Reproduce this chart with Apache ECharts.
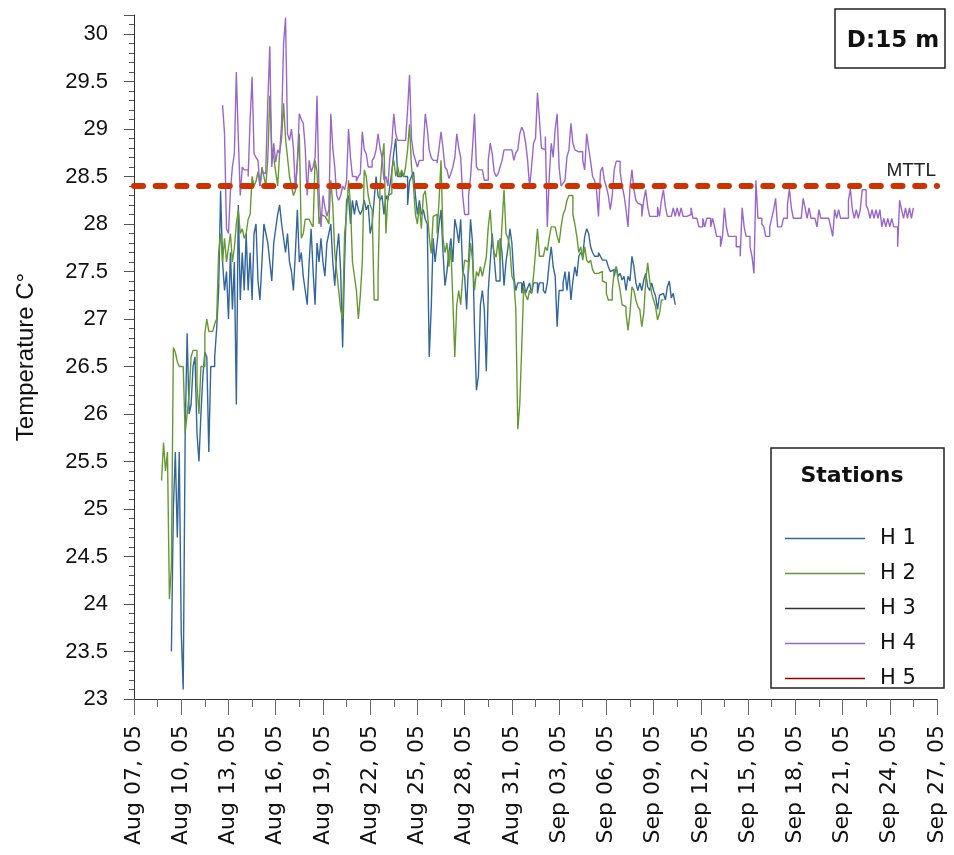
<!DOCTYPE html>
<html>
<head>
<meta charset="utf-8">
<script src="https://cdn.jsdelivr.net/npm/echarts@6/dist/echarts.min.js"></script>
<style>
html,body{margin:0;padding:0;background:#fff;}
#chart{width:954px;height:855px;}
</style>
</head>
<body>
<div id="chart"></div>
<script>
// ---- data: x = days after Aug 07 2005 00:00, 3-hour sampling ----
const xTickLabels = ['Aug 07, 05','Aug 10, 05','Aug 13, 05','Aug 16, 05','Aug 19, 05','Aug 22, 05','Aug 25, 05','Aug 28, 05','Aug 31, 05','Sep 03, 05','Sep 06, 05','Sep 09, 05','Sep 12, 05','Sep 15, 05','Sep 18, 05','Sep 21, 05','Sep 24, 05','Sep 27, 05'];
const stationNames = ['H 1','H 2','H 3','H 4','H 5'];
const mttl = 28.4;
const sampleStep = 0.125;

// H 1
const h1Start = 2.375;
const h1Values = [
23.5,25.0,25.6,24.7,25.6,23.7,23.1,25.8,26.85,26.0,26.1,26.5,26.6,25.8,25.5,26.0,26.4,26.65,26.6,25.6,
26.5,26.5,26.6,26.9,27.3,28.35,27.6,27.3,27.5,27.0,27.7,27.1,27.6,26.1,28.2,27.2,27.7,27.3,27.9,27.3,
27.7,27.2,27.9,28.0,27.4,27.2,27.6,28.0,27.9,27.8,27.6,27.4,27.8,27.95,28.1,28.2,28.0,27.85,27.7,27.9,
27.6,27.5,27.3,27.7,28.15,27.6,27.7,27.45,27.3,27.15,27.6,27.95,27.5,27.15,27.8,27.6,27.85,27.6,27.45,27.8,
27.9,28.0,27.6,27.35,27.7,27.9,27.5,26.7,27.6,28.25,28.3,28.0,28.25,28.1,28.25,28.15,28.1,28.15,28.25,28.15,
28.2,27.9,28.0,28.25,28.5,28.3,28.25,28.3,28.1,28.3,28.25,28.4,28.55,28.75,28.9,28.5,28.5,28.55,28.5,28.5,
28.2,28.45,28.5,28.55,28.3,28.1,28.25,28.1,28.15,28.05,28.0,26.6,27.1,27.85,27.6,27.8,28.0,28.15,27.7,27.35,
27.5,27.7,27.85,27.6,28.05,27.95,27.8,28.05,27.5,27.45,27.1,27.6,28.05,27.8,26.9,26.25,26.4,27.15,27.3,27.1,
26.45,27.3,27.6,27.9,27.65,27.4,27.4,27.85,27.7,27.35,27.6,27.75,27.95,27.8,27.45,27.3,27.38,27.38,27.27,27.4,
27.27,27.33,27.38,27.27,27.38,27.38,27.27,27.38,27.38,27.3,27.27,27.38,27.6,27.76,27.55,27.45,26.92,27.3,27.3,27.38,
27.5,27.3,27.5,27.2,27.4,27.55,27.45,27.66,27.7,27.66,27.87,27.95,27.9,27.76,27.7,27.66,27.66,27.7,27.66,27.62,
27.62,27.62,27.55,27.5,27.52,27.45,27.55,27.45,27.48,27.41,27.45,27.3,27.45,27.4,27.66,27.55,27.38,27.3,27.38,27.3,
27.41,27.48,27.34,27.3,27.38,27.3,27.24,27.1,27.25,27.27,27.27,27.2,27.34,27.4,27.22,27.27,27.15];

// H 2
const h2Start = 1.75;
const h2Values = [
25.3,25.7,25.4,25.6,24.05,24.4,26.7,26.65,26.55,26.5,26.5,26.5,25.8,26.0,26.2,26.6,26.67,26.67,26.3,26.0,
26.5,26.5,26.85,27.0,26.87,26.87,26.85,26.95,27.0,27.7,27.9,27.6,27.85,27.6,27.75,27.9,27.6,27.75,28.0,28.15,
27.9,27.95,27.85,27.9,28.05,28.1,28.5,28.4,28.45,28.55,28.4,28.6,28.5,28.4,28.7,29.35,28.8,28.7,28.55,28.4,
28.75,28.9,29.27,28.9,28.7,28.5,28.4,28.3,28.35,28.65,28.95,27.85,27.9,28.05,28.05,28.04,28.0,27.97,28.67,28.55,
28.0,28.1,28.08,28.1,28.05,28.0,28.46,28.2,27.7,27.5,27.3,27.1,27.0,27.9,28.1,28.46,28.2,27.6,27.45,27.3,
27.0,27.25,27.6,28.57,28.5,28.3,28.2,28.15,27.2,27.2,27.45,28.39,28.67,28.85,27.9,28.3,28.32,28.57,28.67,28.5,
28.6,28.5,28.57,28.5,28.6,28.78,29.05,28.6,28.4,28.1,28.0,28.2,27.95,28.3,28.35,28.15,27.87,27.69,28.08,28.1,
27.9,28.25,28.67,27.85,27.7,27.8,27.55,27.76,27.2,26.6,27.15,27.3,27.15,27.45,27.62,27.6,27.5,27.8,27.62,27.3,
27.5,27.45,27.55,27.45,27.55,27.65,27.97,28.15,27.8,27.7,27.65,27.83,27.6,28.0,28.36,27.9,27.85,27.75,27.45,27.4,
27.1,25.84,26.1,26.7,27.34,27.25,27.2,27.3,27.27,27.45,27.7,27.95,27.66,27.66,27.66,27.76,27.72,27.86,27.97,27.97,
27.97,27.87,27.8,27.97,28.1,28.15,28.25,28.3,28.3,28.1,28.0,27.87,27.7,27.76,27.62,27.76,27.62,27.59,27.62,27.52,
27.48,27.48,27.48,27.5,27.4,27.38,27.27,27.2,27.2,27.3,27.5,27.55,27.41,27.3,27.15,27.13,27.06,26.88,27.06,27.34,
27.3,27.2,27.13,27.1,26.92,27.06,27.4,27.59,27.41,27.27,27.2,27.13,26.99,27.06,27.2,27.2];

// H 3 : no record at this depth
const h3Values = [];

// H 4
const h4Start = 5.625;
const h4Values = [
29.25,28.95,27.95,27.9,28.35,28.6,28.74,29.6,28.9,28.3,28.6,28.57,28.57,28.5,29.1,29.55,28.74,28.7,28.67,28.4,
28.55,28.53,28.6,29.3,29.87,28.6,28.85,28.65,28.78,28.74,29.06,29.9,30.17,28.95,28.88,29.0,28.8,28.35,28.65,29.16,
29.1,29.06,28.8,28.3,28.67,28.55,28.6,28.7,29.35,28.35,27.97,28.3,28.18,28.08,28.15,29.16,28.8,28.6,28.3,28.25,
28.3,28.4,28.36,28.46,29.0,28.7,28.5,28.5,28.45,28.5,28.53,28.97,28.78,28.74,28.6,28.6,28.67,28.7,28.78,28.95,
28.8,28.7,28.46,28.5,28.4,28.7,28.85,29.16,28.95,28.88,28.88,28.88,28.88,28.88,29.2,29.57,28.9,28.74,28.67,28.6,
28.67,28.67,28.8,29.16,29.0,28.78,28.7,28.67,28.67,28.64,28.8,28.97,28.8,28.6,28.57,28.48,28.53,28.6,28.7,28.95,
28.8,28.7,28.3,28.1,28.1,28.3,28.5,28.8,29.16,28.6,28.57,28.57,28.57,28.46,28.46,28.67,28.85,28.74,28.55,28.5,
28.53,28.6,28.67,28.78,28.78,28.78,28.78,28.78,28.67,28.75,28.78,28.95,29.02,28.97,28.85,28.67,28.38,28.6,28.85,28.9,
29.38,29.1,28.8,28.78,28.92,27.97,28.5,28.85,28.7,29.0,29.16,28.6,28.4,28.43,28.46,28.71,28.78,29.06,28.85,28.78,
28.76,28.78,28.76,28.67,28.57,28.95,28.8,28.66,28.5,28.46,28.36,28.08,28.55,28.6,28.46,28.39,28.3,28.15,28.3,28.57,
28.66,28.66,28.55,28.4,28.3,28.15,27.97,28.39,28.57,28.36,28.25,28.22,28.2,28.08,28.25,28.36,28.18,28.08,28.08,28.08,
28.08,28.18,28.08,28.25,28.36,28.18,28.08,28.08,28.08,28.17,28.08,28.17,28.08,28.17,28.08,28.08,28.08,28.1,28.17,28.06,
28.06,28.06,27.97,27.97,28.06,27.97,28.06,28.06,27.97,28.06,27.97,27.87,27.87,27.76,27.87,28.17,27.97,27.87,27.87,27.87,
27.87,27.76,27.76,27.66,28.17,27.97,27.87,27.87,27.76,27.66,27.48,28.46,28.06,28.06,28.0,27.97,27.87,27.87,27.97,28.06,
28.15,28.27,27.97,27.97,27.97,28.06,28.06,28.2,28.37,28.17,28.06,28.06,28.06,28.06,28.06,28.27,28.17,28.06,28.17,28.06,
28.06,28.06,27.97,28.15,28.06,28.06,28.06,28.06,28.06,27.97,27.87,28.15,28.06,28.15,28.06,28.06,28.06,28.06,28.25,28.37,
28.15,28.06,28.15,28.06,28.15,28.36,28.36,28.2,28.15,28.06,28.15,28.06,28.15,28.06,28.15,27.97,28.06,27.97,28.06,27.97,
28.06,27.97,27.97,27.76,28.25,28.15,28.06,28.17,28.06,28.17,28.06,28.17];

// H 5 : no record at this depth
const h5Values = [];

function toPairs(start, values) {
  return values.map((v, i) => [start + i * sampleStep, v]);
}

const colors = ['#336699', '#669933', '#333333', '#9966cc', '#990000'];
const seriesData = [
  toPairs(h1Start, h1Values),
  toPairs(h2Start, h2Values),
  h3Values,
  toPairs(h4Start, h4Values),
  h5Values
];

const chart = echarts.init(document.getElementById('chart'), null, {renderer: 'canvas'});

const series = stationNames.map((name, k) => ({
  name: name,
  type: 'line',
  step: 'end',
  data: seriesData[k],
  showSymbol: false,
  symbol: 'none',
  color: colors[k],
  lineStyle: {width: 1.4, color: colors[k]},
  z: 2
}));

series.push({
  name: 'MTTL',
  type: 'line',
  data: [],
  silent: true,
  z: 5,
  markLine: {
    silent: true,
    symbol: ['none', 'none'],
    animation: false,
    lineStyle: {color: '#cc3300', width: 6, type: [9, 12.7], cap: 'round'},
    label: {show: false},
    data: [{yAxis: mttl}]
  }
});

const option = {
  animation: false,
  backgroundColor: '#fff',
  grid: {left: 134, right: 17, top: 15, bottom: 156},
  xAxis: {
    type: 'value',
    min: 0,
    max: 51,
    interval: 3,
    axisLine: {show: true, lineStyle: {color: '#333', width: 1}},
    axisTick: {show: true, length: 16, lineStyle: {color: '#666'}},
    minorTick: {show: true, splitNumber: 2, length: 8, lineStyle: {color: '#666'}},
    splitLine: {show: false},
    axisLabel: {
      rotate: 90,
      margin: 26,
      fontFamily: 'DejaVu Sans',
      fontSize: 22,
      color: '#111',
      formatter: v => xTickLabels[Math.round(v / 3)] || ''
    }
  },
  yAxis: {
    type: 'value',
    min: 23,
    max: 30.2,
    interval: 0.5,
    name: 'Temperature C°',
    nameLocation: 'middle',
    nameGap: 96,
    nameTextStyle: {fontFamily: 'Liberation Sans', fontSize: 24, color: '#111'},
    axisLine: {show: true, lineStyle: {color: '#333', width: 1}},
    axisTick: {show: true, length: 10, lineStyle: {color: '#555'}},
    minorTick: {show: true, splitNumber: 5, length: 5, lineStyle: {color: '#555'}},
    splitLine: {show: false},
    axisLabel: {
      margin: 26,
      fontFamily: 'Liberation Sans',
      fontSize: 22,
      color: '#111',
      formatter: v => (Math.abs(v * 2 - Math.round(v * 2)) < 1e-6 ? String(v) : '')
    }
  },
  legend: {
    data: stationNames,
    orient: 'vertical',
    left: 780,
    top: 523,
    itemWidth: 80,
    itemHeight: 20,
    itemGap: 14,
    icon: 'path://M0,0 L80,0 L80,1.5 L0,1.5 Z',
    selectedMode: false,
    textStyle: {fontFamily: 'DejaVu Sans', fontSize: 21, color: '#111', padding: [0, 0, 0, 10]}
  },
  graphic: [
    {type: 'rect', shape: {x: 771, y: 448, width: 173, height: 240}, style: {fill: 'none', stroke: '#222', lineWidth: 1.5}, z: 10},
    {type: 'text', x: 852, y: 476, style: {text: 'Stations', font: 'bold 22px "DejaVu Sans"', fill: '#111', align: 'center', verticalAlign: 'middle'}, z: 10},
    {type: 'rect', shape: {x: 835, y: 9, width: 110, height: 59}, style: {fill: '#fff', stroke: '#222', lineWidth: 1.5}, z: 10},
    {type: 'text', x: 893, y: 41, style: {text: 'D:15 m', font: 'bold 23px "DejaVu Sans"', fill: '#111', align: 'center', verticalAlign: 'middle'}, z: 11},
    {type: 'text', x: 936, y: 171, style: {text: 'MTTL', font: '19px "Liberation Sans"', fill: '#222', align: 'right', verticalAlign: 'middle'}, z: 10}
  ],
  series: series
};

chart.setOption(option);
</script>
</body>
</html>
